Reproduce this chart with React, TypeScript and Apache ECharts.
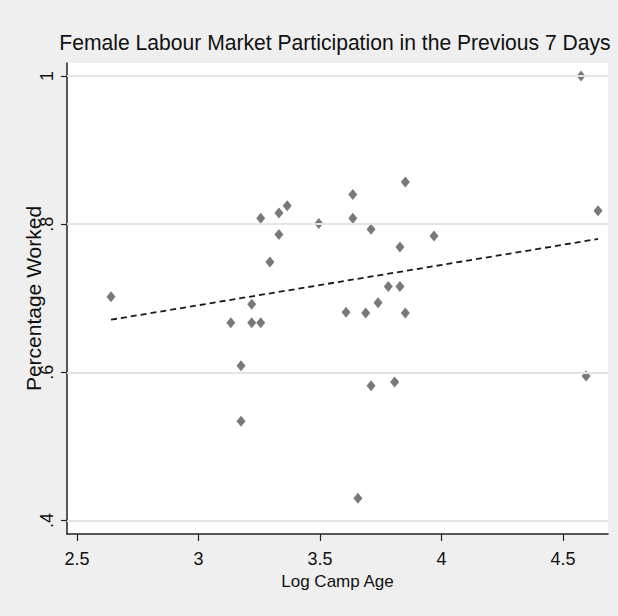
import React, { useEffect, useRef } from "react";
import * as echarts from "echarts";

const titleText = "Female Labour Market Participation in the Previous 7 Days";
const xName = "Log Camp Age";
const yName = "Percentage Worked";

const logCampAge = [
  2.640, 3.133, 3.175, 3.175, 3.219, 3.219, 3.256, 3.256, 3.294, 3.331, 3.331,
  3.365, 3.495, 3.607, 3.635, 3.635, 3.656, 3.688, 3.710, 3.710, 3.739, 3.781,
  3.807, 3.829, 3.829, 3.851, 3.851, 3.969, 4.574, 4.595, 4.644,
];
const pctWorked = [
  0.702, 0.667, 0.609, 0.534, 0.692, 0.667, 0.667, 0.808, 0.749, 0.815, 0.786,
  0.825, 0.801, 0.681, 0.840, 0.808, 0.430, 0.680, 0.793, 0.582, 0.694, 0.716,
  0.587, 0.769, 0.716, 0.680, 0.857, 0.784, 1.0, 0.595, 0.818,
];
const fitX = [2.640, 4.644];
const fitY = [0.671, 0.780];

const xTicks = [2.5, 3, 3.5, 4, 4.5];
const yTicks = [0.4, 0.6, 0.8, 1];

const FONT = '"Liberation Sans", Arial, sans-serif';

export default function App() {
  const ref = useRef<HTMLDivElement>(null);
  useEffect(() => {
    if (!ref.current) return;
    const chart = echarts.init(ref.current, undefined, { renderer: "svg" });
    const fmtY = (v: number) => {
      const s = String(Math.round(v * 10) / 10);
      return s.startsWith("0.") ? s.slice(1) : s;
    };
    chart.setOption({
      animation: false,
      backgroundColor: "#efefef",
      grid: {
        left: 67,
        right: 10,
        top: 63,
        bottom: 82,
        show: true,
        backgroundColor: "#ffffff",
        borderWidth: 0,
      },
      graphic: [
        {
          type: "text",
          x: 335,
          y: 42,
          scaleX: 0.96,
          style: {
            text: titleText,
            align: "center",
            verticalAlign: "middle",
            fontFamily: FONT,
            fontSize: 22,
            fill: "#111",
          },
        },
      ],
      xAxis: {
        type: "value",
        min: 2.459,
        max: 4.685,
        name: xName,
        nameLocation: "middle",
        nameGap: 39,
        nameMoveOverlap: false,
        nameTextStyle: { fontFamily: FONT, fontSize: 17, color: "#111" },
        axisLine: { show: true, onZero: false, lineStyle: { color: "#222", width: 1.5 } },
        axisTick: { show: true, customValues: xTicks, length: 7, lineStyle: { color: "#222", width: 1.2 } },
        axisLabel: {
          customValues: xTicks,
          margin: 16,
          fontFamily: FONT,
          fontSize: 18,
          color: "#111",
          formatter: (v: number) => String(v),
        },
        splitLine: { show: false },
      },
      yAxis: {
        type: "value",
        min: 0.3818,
        max: 1.0175,
        name: yName,
        nameLocation: "middle",
        nameGap: 23,
        nameMoveOverlap: false,
        nameTextStyle: { fontFamily: FONT, fontSize: 21, color: "#111" },
        axisLine: { show: true, onZero: false, lineStyle: { color: "#222", width: 1.5 } },
        axisTick: { show: true, customValues: yTicks, length: 6, lineStyle: { color: "#222", width: 1.2 } },
        axisLabel: {
          customValues: yTicks,
          rotate: 90,
          margin: 11,
          fontFamily: FONT,
          fontSize: 18,
          color: "#111",
          formatter: fmtY,
        },
        splitLine: { show: false },
      },
      series: [
        {
          type: "line",
          data: [],
          silent: true,
          markLine: {
            silent: true,
            symbol: "none",
            label: { show: false },
            lineStyle: { color: "#e4e4e4", width: 2, type: "solid" },
            data: yTicks.map((v) => ({ yAxis: v })),
          },
        },
        {
          type: "line",
          data: fitX.map((x, i) => [x, fitY[i]]),
          showSymbol: false,
          symbol: "none",
          lineStyle: { color: "#1a1a1a", width: 1.8, type: [6, 4] },
          silent: true,
          z: 3,
        },
        {
          type: "scatter",
          data: logCampAge.map((x, i) => [x, pctWorked[i]]),
          symbol: "diamond",
          symbolSize: [9, 11],
          itemStyle: { color: "#585858" },
          z: 4,
        },
      ],
    });
    return () => chart.dispose();
  }, []);
  return (
    <div
      ref={ref}
      style={{ position: "absolute", left: 0, top: 0, width: 618, height: 616 }}
    />
  );
}
